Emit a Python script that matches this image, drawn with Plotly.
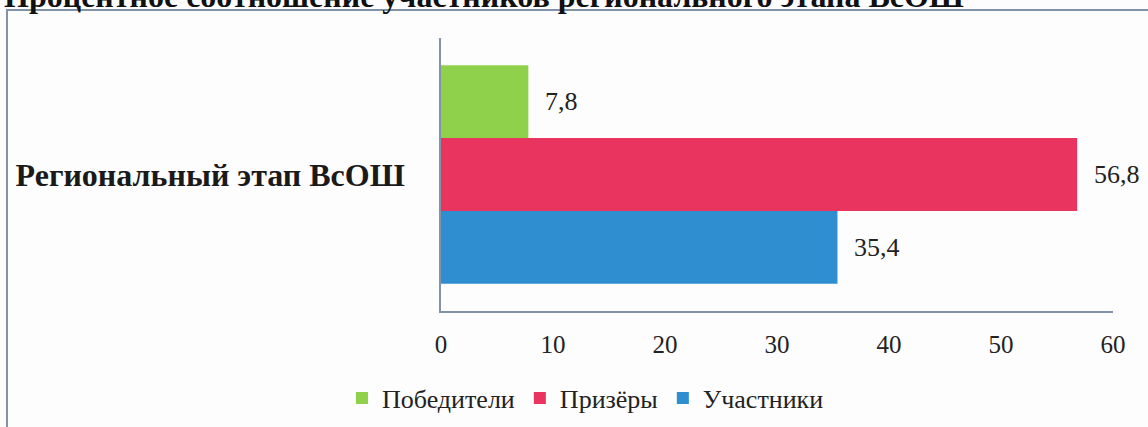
import plotly.graph_objects as go

# ---- data ----
category = ["Региональный этап ВсОШ"]
series_names = ["Победители", "Призёры", "Участники"]
series_values = [[7.8], [56.8], [35.4]]
series_colors = ["#8FD14A", "#E8345F", "#2E8ED0"]
x_ticks = [0, 10, 20, 30, 40, 50, 60]
title_text = "Процентное соотношение участников регионального этапа ВсОШ"

W, H = 1148, 427
ML, MR, MT, MB = 441, 35, 38, 116
BARGAP = 0.2
SERIF = "Liberation Serif, Times New Roman, serif"
AXIS_COLOR = "#8093A8"

fig = go.Figure()
# plotly stacks grouped horizontal bars bottom-up, so add in reverse order
order = list(range(len(series_names)))[::-1]
for i in order:
    fig.add_trace(go.Bar(
        y=category, x=series_values[i], name=series_names[i], orientation="h",
        marker=dict(color=series_colors[i], line=dict(width=0)),
        hoverinfo="skip",
    ))

# value labels, placed beside each bar
n = len(series_names)
bw = (1 - BARGAP) / n
for k, i in enumerate(order):
    ypos = -(1 - BARGAP) / 2 + (k + 0.5) * bw
    v = series_values[i][0]
    fig.add_annotation(
        x=v, y=ypos, xref="x", yref="y", text=f"{v:.1f}".replace(".", ","),
        showarrow=False, xanchor="left", yanchor="middle", xshift=15,
        font=dict(family=SERIF, size=26, color="#222222"),
    )

plot_h = H - MT - MB
plot_w = W - ML - MR
def py(pix):
    return (H - MB - pix) / plot_h
def px(pix):
    return (pix - ML) / plot_w

# title (partially clipped at top, as in reference)
fig.add_annotation(
    x=px(2), y=py(-4), xref="paper", yref="paper", text=f"<b>{title_text}</b>",
    showarrow=False, xanchor="left", yanchor="middle",
    font=dict(family=SERIF, size=32, color="#111111"),
)

# outer frame
fig.add_shape(type="path", xref="paper", yref="paper",
              path=f"M {px(7)} {py(500)} L {px(7)} {py(10)} L {px(1300)} {py(10)}",
              line=dict(color=AXIS_COLOR, width=2))

fig.update_layout(
    width=W, height=H,
    margin=dict(l=ML, r=MR, t=MT, b=MB),
    paper_bgcolor="#FDFDFD", plot_bgcolor="#FDFDFD",
    barmode="group", bargap=BARGAP, bargroupgap=0,
    showlegend=True,
    legend=dict(orientation="h", xref="container", yref="container",
                x=0.51, xanchor="center", y=1 - 398 / H, yanchor="middle",
                traceorder="reversed",
                font=dict(family=SERIF, size=26, color="#222222"),
                bgcolor="rgba(0,0,0,0)"),
    xaxis=dict(range=[0, 60], tickvals=x_ticks, showgrid=False, zeroline=False,
               showline=True, linecolor=AXIS_COLOR, linewidth=1.5, ticks="",
               ticklabelstandoff=10,
               tickfont=dict(family=SERIF, size=25, color="#222222")),
    yaxis=dict(showgrid=False, zeroline=False, showline=True, linecolor=AXIS_COLOR,
               linewidth=1.5, ticks="", ticklabelstandoff=28,
               range=[-0.5, 0.5],
               tickfont=dict(family=SERIF, size=32, color="#1a1a1a", weight="bold")),
    font=dict(family=SERIF),
)

fig.write_html(
    "out.html",
    config={"displayModeBar": False},
    post_script="document.body.style.margin='0';document.body.style.overflow='hidden';",
)
